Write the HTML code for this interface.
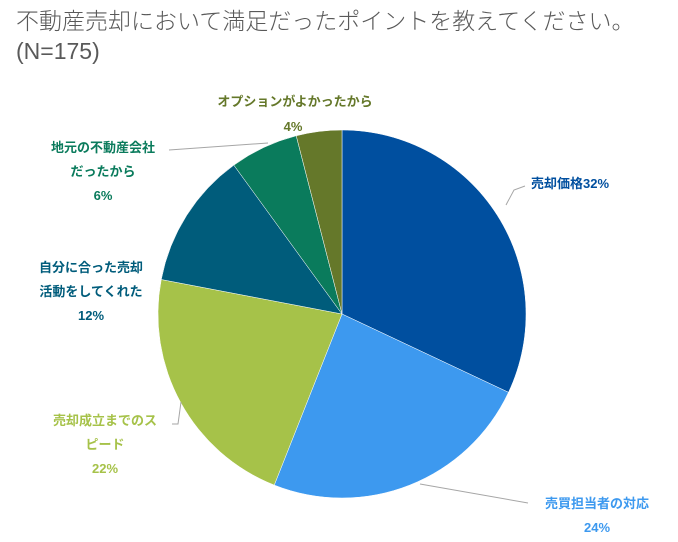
<!DOCTYPE html>
<html><head><meta charset="utf-8"><style>
body{margin:0;background:#fff;width:678px;height:542px;overflow:hidden;font-family:"Liberation Sans","Noto Sans CJK JP",sans-serif}
.t{position:absolute;left:16px;top:6px;font-size:23px;color:#595959;line-height:30px;font-weight:300}
svg{position:absolute;left:0;top:0}
.lb{font-weight:bold;font-size:13px}
</style></head><body>
<div class="t">不動産売却において満足だったポイントを教えてください。<br>(N=175)</div>
<svg width="678" height="542">
<g id="slices"></g><g id="labels"></g>
</svg>
<script>
const categories=["売却価格","売買担当者の対応","売却成立までのスピード","自分に合った売却活動をしてくれた","地元の不動産会社だったから","オプションがよかったから"];
const values=[32,24,22,12,6,4];
const colors=["#004f9f","#3d99ef","#a6c249","#005c7b","#0a7b5c","#65782a"];
const cx=342,cy=314,r=184;
const NS="http://www.w3.org/2000/svg";
const total=values.reduce((a,b)=>a+b,0);
function pt(a,rr){return [cx+rr*Math.sin(a),cy-rr*Math.cos(a)];}
let a0=0;const sg=document.getElementById('slices');
values.forEach((v,i)=>{
 const a1=a0+v/total*2*Math.PI;
 const p0=pt(a0,r),p1=pt(a1,r);
 const p=document.createElementNS(NS,'path');
 p.setAttribute('d',`M${cx},${cy}L${p0[0]},${p0[1]}A${r},${r} 0 ${a1-a0>Math.PI?1:0} 1 ${p1[0]},${p1[1]}Z`);
 p.setAttribute('fill',colors[i]);p.setAttribute('stroke','#fff');p.setAttribute('stroke-width','0.5');
 
 
 sg.appendChild(p);a0=a1;
});
const lg=document.getElementById('labels');
const labelDefs=[
 {lines:[categories[0]+" "+values[0]+"%"],x:570,y:188,c:0,line:"M525,186 L514,190 L506,205"},
 {lines:["売買担当者の対応",values[1]+"%"],x:597,y:508,c:1,line:"M528,503 L420,484",dy:24},
 {lines:["売却成立までの ス","ピード",values[2]+"%"],x:105,y:425,c:2,line:"M172,424 L178,424 L181,402",dy:24},
 {lines:["自分に合った売却","活動をしてくれた",values[3]+"%"],x:91,y:272,c:3,dy:24},
 {lines:["地元の不動産会社","だったから",values[4]+"%"],x:103,y:152,c:4,line:"M169,150 L268,143",dy:24},
 {lines:["オプションがよかったから"],x:295,y:106,c:5},
 {lines:[values[5]+"%"],x:293,y:131,c:5}
];
labelDefs.forEach((d,k)=>{
 if(d.line){const l=document.createElementNS(NS,'path');l.setAttribute('d',d.line);l.setAttribute('stroke','#a6a6a6');l.setAttribute('fill','none');
 
 
 lg.appendChild(l);}
 d.lines.forEach((s,j)=>{
  const t=document.createElementNS(NS,'text');
  t.setAttribute('x',d.x);t.setAttribute('y',d.y+j*(d.dy||24));
  t.setAttribute('text-anchor','middle');t.setAttribute('class','lb');t.setAttribute('fill',colors[d.c]);
  t.textContent=s.replace(' ','');
  
  
  lg.appendChild(t);
 });
});
</script>
</body></html>
